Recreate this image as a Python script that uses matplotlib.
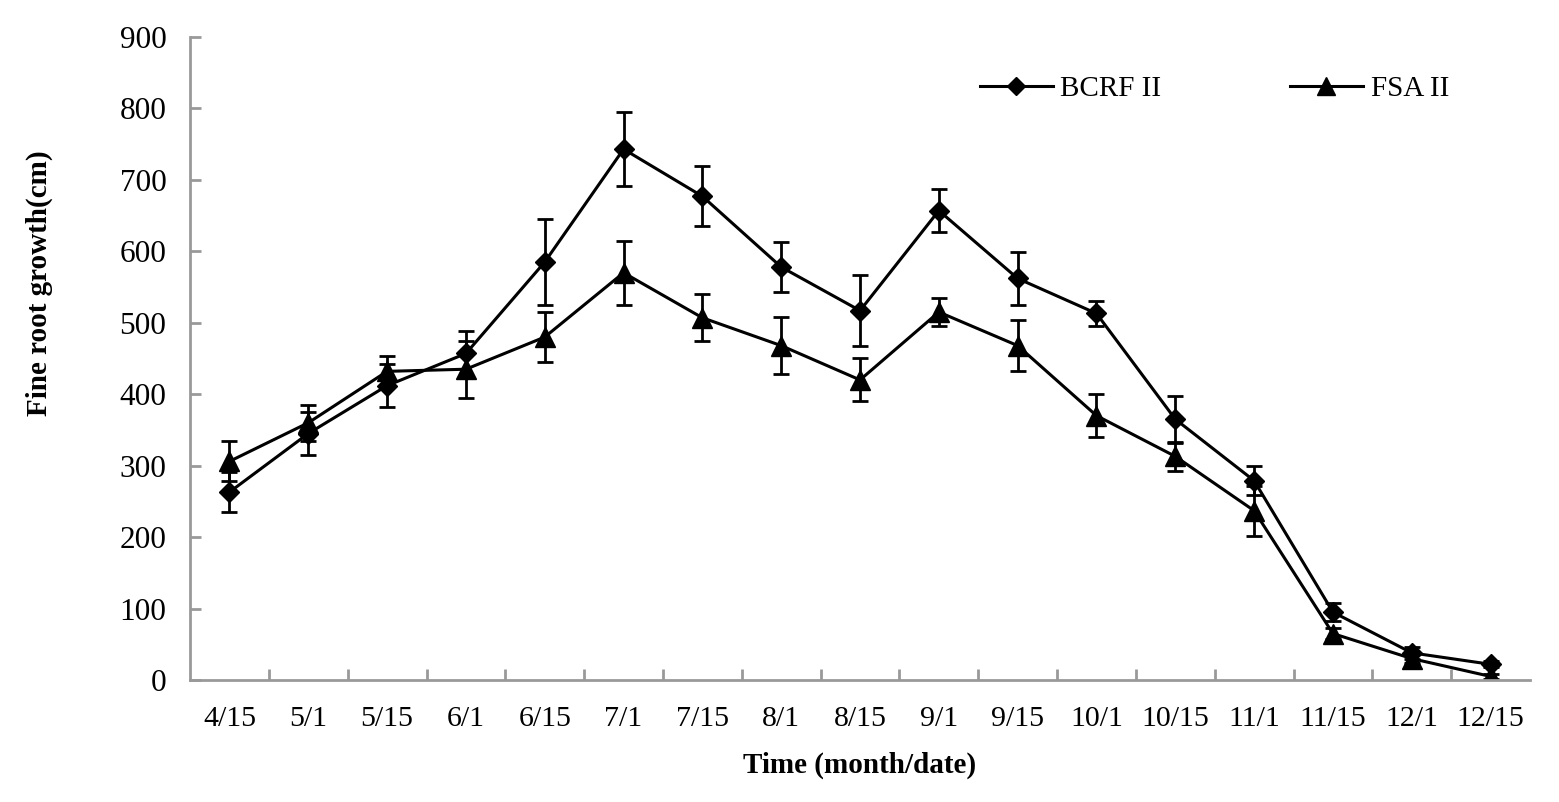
import matplotlib
matplotlib.use("Agg")
import matplotlib.pyplot as plt
import numpy as np

plt.rcParams['font.family'] = ['Liberation Serif', 'DejaVu Serif']

dates = ["4/15", "5/1", "5/15", "6/1", "6/15", "7/1", "7/15", "8/1", "8/15",
         "9/1", "9/15", "10/1", "10/15", "11/1", "11/15", "12/1", "12/15"]

bcrf = [263, 345, 412, 457, 585, 743, 677, 578, 517, 657, 562, 513, 365, 279, 95, 38, 22]
bcrf_err = [28, 30, 30, 32, 60, 52, 42, 35, 50, 30, 37, 18, 33, 20, 13, 8, 4]

fsa = [306, 360, 432, 435, 480, 570, 507, 468, 420, 515, 468, 370, 313, 237, 65, 30, 5]
fsa_err = [28, 25, 22, 40, 35, 45, 33, 40, 30, 20, 36, 30, 20, 35, 8, 6, 3]

x = np.arange(len(dates))

fig = plt.figure(figsize=(15.59, 8.02), dpi=100)
ax = fig.add_axes([0.1219, 0.1521, 0.8595, 0.8018])

ax.errorbar(x, bcrf, yerr=bcrf_err, color="black", lw=2.2, marker="D", ms=10,
            capsize=6, elinewidth=2, capthick=2, label="BCRF II")
ax.errorbar(x, fsa, yerr=fsa_err, color="black", lw=2.2, marker="^", ms=14,
            capsize=6, elinewidth=2, capthick=2, label="FSA II")

ax.set_xlim(-0.5, len(dates) - 0.5)
ax.set_ylim(0, 900)
ax.set_yticks(range(0, 901, 100))
ax.set_xticks(x)
ax.set_xticklabels(dates)
ax.set_xticks(np.arange(0.5, len(dates) - 0.5, 1), minor=True)
ax.tick_params(axis="x", which="major", length=0, pad=19, labelsize=21.5)
ax.tick_params(axis="x", which="minor", direction="in", length=8, width=2, color="#999999")
ax.tick_params(axis="y", direction="in", length=8, width=2, color="#999999", labelsize=22.5, pad=17)

for side in ["top", "right"]:
    ax.spines[side].set_visible(False)
for side in ["left", "bottom"]:
    ax.spines[side].set_color("#999999")
    ax.spines[side].set_linewidth(2)

ax.set_xlabel("Time (month/date)", fontsize=21, fontweight="bold", labelpad=14)
fig.text(39 / 1559, 1 - 283 / 802, "Fine root growth(cm)", fontsize=21, fontweight="bold",
         rotation=90, ha="center", va="center")

handles, labels = ax.get_legend_handles_labels()
handles = [h[0] for h in handles]
ax.legend(handles, labels, ncol=2, frameon=False, fontsize=21, loc="center left",
          bbox_to_anchor=(0.5784, 0.919), borderpad=0, handlelength=2.5,
          handletextpad=0.27, columnspacing=4.4, markerscale=0.88)

fig.savefig("out.png", dpi=100)
